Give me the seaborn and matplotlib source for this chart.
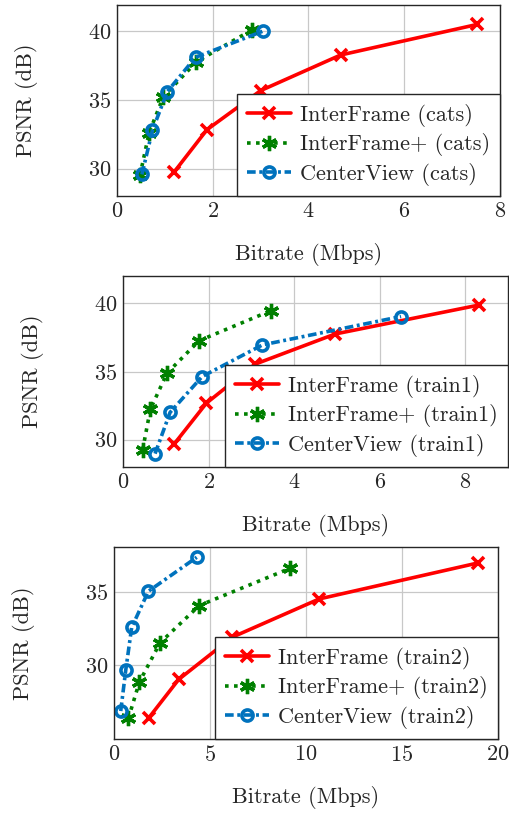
import matplotlib
matplotlib.use("Agg")
import matplotlib.pyplot as plt
import seaborn as sns
import pandas as pd

# cats
cats_inter_x = [1.19, 1.88, 3.00, 4.67, 7.53]
cats_inter_y = [29.73, 32.83, 35.67, 38.26, 40.49]
cats_plus_x = [0.48, 0.67, 0.97, 1.66, 2.81]
cats_plus_y = [29.50, 32.60, 35.24, 37.77, 40.07]
cats_center_x = [0.52, 0.74, 1.05, 1.64, 3.05]
cats_center_y = [29.57, 32.78, 35.60, 38.09, 40.00]

# train1
train1_inter_x = [1.20, 1.95, 3.09, 4.96, 8.32]
train1_inter_y = [29.70, 32.68, 35.54, 37.75, 39.87]
train1_plus_x = [0.46, 0.64, 1.03, 1.78, 3.46]
train1_plus_y = [29.27, 32.24, 34.88, 37.26, 39.46]
train1_center_x = [0.75, 1.10, 1.85, 3.26, 6.50]
train1_center_y = [28.98, 32.00, 34.63, 36.95, 39.03]

# train2
train2_inter_x = [1.82, 3.37, 6.16, 10.69, 18.97]
train2_inter_y = [26.45, 29.05, 31.92, 34.52, 36.97]
train2_plus_x = [0.75, 1.32, 2.40, 4.44, 9.17]
train2_plus_y = [26.40, 28.87, 31.54, 34.07, 36.60]
train2_center_x = [0.35, 0.61, 0.92, 1.79, 4.31]
train2_center_y = [26.90, 29.66, 32.58, 35.04, 37.35]

methods = ["InterFrame", "InterFrame+", "CenterView"]

sns.set_style("white")
plt.rcParams["font.family"] = ["cmr10", "DejaVu Serif"]
plt.rcParams["mathtext.fontset"] = "cm"
plt.rcParams["axes.formatter.use_mathtext"] = True

RED, GREEN, BLUE = "#ff0000", "#008000", "#0072bd"
styles = {
    "InterFrame": dict(color=RED, linestyle="-", marker="x", ms=9, markeredgewidth=2.6,
                       markeredgecolor=RED, lw=2.6),
    "InterFrame+": dict(color=GREEN, linestyle=(0, (1, 1.5)), marker=(6, 2, 0), ms=11,
                        markeredgewidth=2.4, markeredgecolor=GREEN, lw=2.6),
    "CenterView": dict(color=BLUE, linestyle=(0, (2.4, 1, 0.8, 1)), marker="o", ms=8,
                       markeredgewidth=2.6, markeredgecolor=BLUE, mfc="none", lw=2.6),
}

panels = [
    ("cats", [(cats_inter_x, cats_inter_y), (cats_plus_x, cats_plus_y), (cats_center_x, cats_center_y)],
     [117, 5, 500, 196], (0, 8), [0, 2, 4, 6, 8], (28.0, 41.9), [30, 35, 40]),
    ("train1", [(train1_inter_x, train1_inter_y), (train1_plus_x, train1_plus_y), (train1_center_x, train1_center_y)],
     [123, 276, 508, 467], (0, 9), [0, 2, 4, 6, 8], (28.0, 42.0), [30, 35, 40]),
    ("train2", [(train2_inter_x, train2_inter_y), (train2_plus_x, train2_plus_y), (train2_center_x, train2_center_y)],
     [114, 547, 498, 739], (0, 20), [0, 5, 10, 15, 20], (25.0, 38.05), [30, 35]),
]

FS = 16
W, H = 510, 816
fig = plt.figure(figsize=(W / 100, H / 100), dpi=100)

for name, series, box, xlim, xticks, ylim, yticks in panels:
    l, t, r, b = box
    ax = fig.add_axes([l / W, 1 - b / H, (r - l) / W, (b - t) / H])
    for method, (xs, ys) in zip(methods, series):
        df = pd.DataFrame({"x": xs, "y": ys})
        sns.lineplot(data=df, x="x", y="y", ax=ax, label=f"{method} ({name})", **styles[method])
    ax.set_xlim(*xlim)
    ax.set_ylim(*ylim)
    ax.set_xticks(xticks)
    ax.set_yticks(yticks)
    ax.grid(True, color="#c8c8c8", lw=0.9)
    ax.set_axisbelow(True)
    for s in ax.spines.values():
        s.set_color("#262626")
        s.set_linewidth(1.0)
    ax.tick_params(direction="in", length=4, width=0.8, color="#262626", labelsize=FS, pad=4)
    ax.set_xlabel("Bitrate (Mbps)", fontsize=FS, labelpad=15.5)
    ax.set_ylabel("PSNR (dB)", fontsize=FS, labelpad=36)
    leg = ax.legend(loc="lower right", fontsize=FS, frameon=True, fancybox=False, framealpha=1,
                    edgecolor="#262626", borderaxespad=0, handlelength=2.0, borderpad=0.45,
                    labelspacing=0.3, handletextpad=0.4)
    leg.get_frame().set_linewidth(1.0)

fig.savefig("out.png", dpi=100)
